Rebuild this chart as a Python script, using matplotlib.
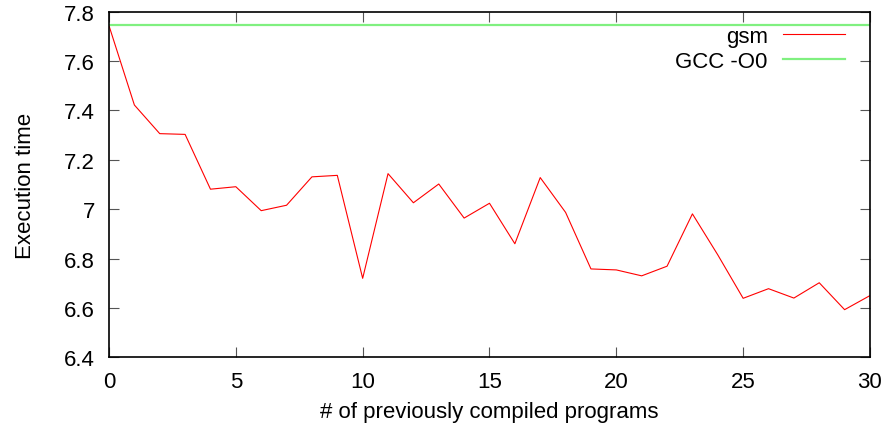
import matplotlib.pyplot as plt
from matplotlib.ticker import FuncFormatter

plt.rcParams['font.family'] = ['Liberation Sans', 'DejaVu Sans']

# number of previously compiled programs
programs = list(range(31))
# execution time of gsm
gsm = [7.743, 7.422, 7.306, 7.303, 7.081, 7.091, 6.994, 7.016, 7.131, 7.137,
       6.720, 7.144, 7.026, 7.102, 6.964, 7.024, 6.860, 7.128, 6.987, 6.758,
       6.754, 6.730, 6.769, 6.981, 6.815, 6.639, 6.678, 6.640, 6.702, 6.593,
       6.650]
# baseline GCC -O0
gcc_o0 = 7.747

xticks = [0, 5, 10, 15, 20, 25, 30]
yticks = [6.4, 6.6, 6.8, 7.0, 7.2, 7.4, 7.6, 7.8]

fig = plt.figure(figsize=(8.87, 4.39), dpi=100)
ax = fig.add_axes([0.1229, 0.1838, 0.8579, 0.7873])

ax.plot(programs, gsm, color='#ff0000', lw=0.8, label='gsm')
ax.plot([programs[0], programs[-1]], [gcc_o0, gcc_o0], color='#80f080', lw=1.6, label='GCC -O0')

ax.set_xlim(0, 30)
ax.set_ylim(6.4, 7.8)
ax.set_xticks(xticks)
ax.set_yticks(yticks)
ax.yaxis.set_major_formatter(FuncFormatter(lambda v, p: f'{v:g}'))
ax.tick_params(direction='in', length=7, width=0.8, color='#555555',
               top=True, right=True, labelsize=16)
ax.tick_params(axis='y', pad=10)
ax.tick_params(axis='x', pad=10)
for s in ax.spines.values():
    s.set_linewidth(1.2)

ax.set_xlabel('# of previously compiled programs', fontsize=16, labelpad=6)
ax.set_ylabel('Execution time', fontsize=16, labelpad=20)

ax.legend(loc='upper right', frameon=False, markerfirst=False, fontsize=16,
          handlelength=2.8, handletextpad=0.68, labelspacing=0.18,
          borderpad=0.4, borderaxespad=0, bbox_to_anchor=(0.979, 0.9855))

fig.savefig('out.png', dpi=100)
